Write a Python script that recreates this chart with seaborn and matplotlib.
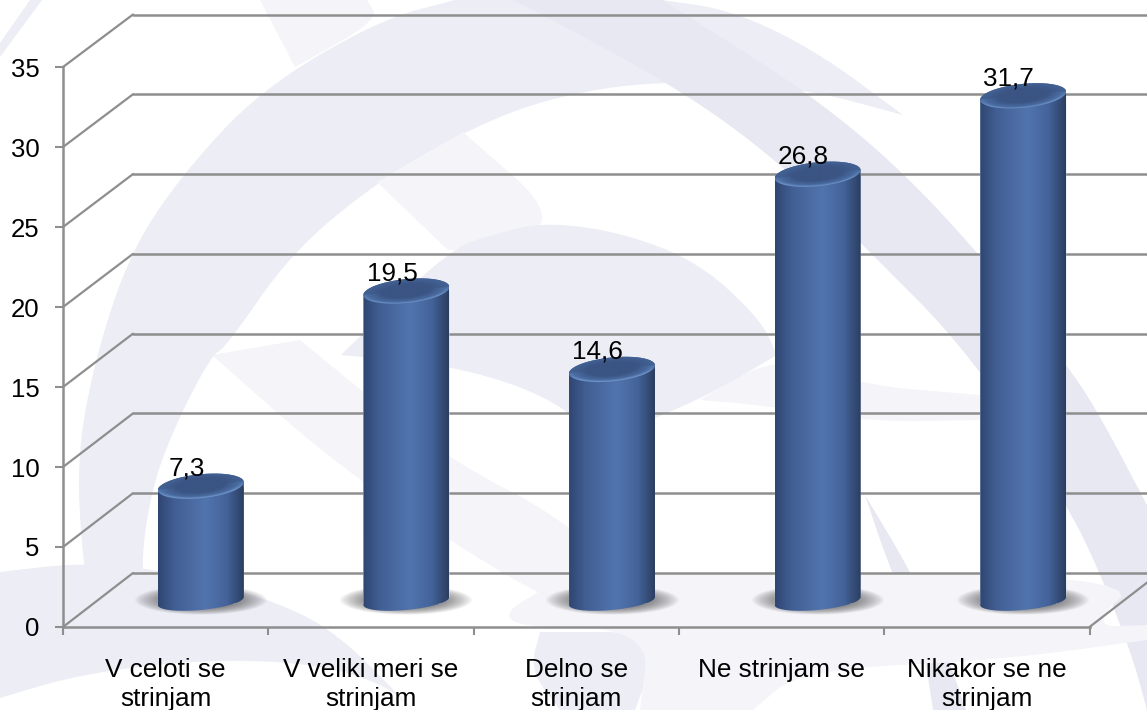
import numpy as np
import matplotlib
matplotlib.use("Agg")
import matplotlib.pyplot as plt
from matplotlib.colors import LinearSegmentedColormap, to_rgb
from matplotlib.patches import ConnectionPatch, Polygon
from matplotlib.path import Path
import seaborn as sns

categories = ["V celoti se\nstrinjam", "V veliki meri se\nstrinjam", "Delno se\nstrinjam",
              "Ne strinjam se", "Nikakor se ne\nstrinjam"]
values = [7.3, 19.5, 14.6, 26.8, 31.7]
value_labels = ["7,3", "19,5", "14,6", "26,8", "31,7"]
y_ticks = [0, 5, 10, 15, 20, 25, 30, 35]

W, H = 1147, 710
LILAC = "#ecedf5"
LIGHT = "#f4f4f9"
DARK = "#e7e8f2"
GRID = "#8e8e8e"

sns.set_theme(style="white")
plt.rcParams["font.family"] = ["Liberation Sans", "DejaVu Sans"]

fig = plt.figure(figsize=(W / 100, H / 100), dpi=100, facecolor="white")


def axes_px(x0, x1, y_bottom, y_top, z):
    # axes placed by pixel position in the picture (y counted from the top)
    a = fig.add_axes([x0 / W, 1 - y_bottom / H, (x1 - x0) / W, (y_bottom - y_top) / H], zorder=z)
    a.patch.set_alpha(0)
    return a


def curve(pts):
    # chaikin smoothing, end points stay where they are
    pts = np.array(pts, dtype=float)
    for _ in range(3):
        q = pts[:-1] * 0.75 + pts[1:] * 0.25
        r = pts[:-1] * 0.25 + pts[1:] * 0.75
        mid = np.empty((len(q) * 2, 2))
        mid[0::2] = q
        mid[1::2] = r
        pts = np.vstack([pts[:1], mid, pts[-1:]])
    return pts


# background watermark
bg = axes_px(0, W, H, 0, 0)
bg.set_xlim(0, W)
bg.set_ylim(H, 0)
bg.axis("off")


def swoosh(color, *edges):
    bg.add_patch(Polygon(np.vstack([curve(e) for e in edges]), closed=True, fc=color, ec="none"))


swoosh(LILAC, [(42, 0), (0, 57)], [(0, 43), (30, 0)])
swoosh(LIGHT, [(260, 0), (295, 67)], [(295, 67), (379, 20), (367, 0)])
# light strip running under the big band
swoosh(LIGHT, [(212, 355), (325, 455), (421, 522), (530, 590), (580, 610)],
       [(640, 600), (570, 522), (440, 455), (300, 340)])
# big C band
swoosh(LILAC,
       [(455, 0), (379, 20), (260, 90), (180, 177), (130, 253), (96, 355), (77, 455), (82, 555), (95, 640)],
       [(150, 640), (140, 565), (153, 482), (180, 415), (212, 355), (226, 347), (291, 253), (377, 182),
        (463, 132), (547, 98), (658, 80), (803, 88), (903, 115)],
       [(903, 115), (815, 50), (731, 10), (662, 0)])
swoosh(LIGHT, [(377, 182), (448, 250)], [(490, 250), (563, 220), (463, 132)])
# inner dome
swoosh(LIGHT, [(700, 400), (777, 355), (860, 385), (980, 395)], [(980, 420), (870, 422), (760, 405), (700, 400)])
swoosh(LILAC,
       [(341, 355), (448, 250), (497, 233), (547, 222), (624, 233), (700, 263), (761, 320), (777, 355)],
       [(777, 355), (700, 400), (600, 440), (547, 395), (450, 365), (341, 355)])
# diagonal band on the right
swoosh(DARK,
       [(513, 0), (547, 17), (681, 90), (777, 160), (861, 243), (972, 355), (1067, 505), (1098, 568),
        (1132, 655), (1147, 710)],
       [(1147, 505), (1098, 412), (1067, 365), (979, 253), (891, 160), (800, 87), (662, 0)])
swoosh(DARK, [(865, 495), (911, 572), (941, 638), (966, 710)], [(933, 710), (922, 638), (891, 572), (865, 495)])
# bottom
swoosh(LILAC,
       [(0, 572), (77, 563), (153, 568), (268, 598), (337, 632), (413, 710)],
       [(413, 710), (383, 683), (306, 662), (191, 660), (77, 675), (0, 698)])
swoosh(LILAC, [(540, 632), (658, 632), (650, 670), (635, 710)], [(560, 710), (530, 670), (540, 632)])
swoosh(LIGHT, [(570, 573), (1147, 573), (1089, 627), (1147, 625)],
       [(1147, 640), (1000, 660), (800, 670), (753, 710)], [(640, 710), (650, 627), (480, 627), (570, 573)])

# back wall, front axis and the bars share one scale, only shifted (fake 3d)
ax_back = axes_px(133, 1159.5, 573, 14.5, 1)
ax_front = axes_px(63, 1089.5, 627, 67, 2)
ax_bars = axes_px(98, 1126, 635, 43, 3)

for a in [ax_back, ax_front]:
    a.set_xlim(-0.5, 4.5)
    a.set_ylim(0, 35)

ax_back.set_yticks(y_ticks)
ax_back.set_xticks([])
ax_back.tick_params(left=False, labelleft=False)
ax_back.grid(axis="y", color=GRID, lw=1.8)
ax_back.set_axisbelow(True)
sns.despine(ax=ax_back, left=True, bottom=True)
ax_back.set_ylim(0, 35)
for ln in ax_back.get_ygridlines():
    ln.set_clip_on(False)

ax_front.set_yticks(y_ticks)
ax_front.set_xticks(np.arange(-0.5, 5, 1))
ax_front.set_xticklabels([])
ax_front.set_xticks(range(len(categories)), labels=categories, minor=True)
ax_front.tick_params(axis="both", which="major", color=GRID, width=1.5, length=6, left=True, bottom=True)
ax_front.tick_params(axis="x", which="minor", length=0, pad=22.5, labelsize=18.8, labelcolor="black")
ax_front.tick_params(axis="y", labelsize=18.5, labelcolor="black", pad=11)
for lb in ax_front.get_xticklabels(minor=True):
    lb.set_linespacing(1.23)
sns.despine(ax=ax_front)
for s in ["left", "bottom"]:
    ax_front.spines[s].set_color(GRID)
    ax_front.spines[s].set_linewidth(1.8)

# side wall lines between the front axis and the back wall
for v in y_ticks:
    fig.add_artist(ConnectionPatch((-0.5, v), (-0.5, v), coordsA=ax_front.transData, coordsB=ax_back.transData,
                                   color=GRID, lw=1.6, zorder=1.5))
fig.add_artist(ConnectionPatch((4.5, 0), (4.5, 0), coordsA=ax_front.transData, coordsB=ax_back.transData,
                               color=GRID, lw=1.6, zorder=1.5))

# cylinders
sns.barplot(x=list(range(5)), y=values, color="#4a6aa0", saturation=1, width=0.418, ax=ax_bars, zorder=2)
ax_bars.axis("off")

px_x = 1 / 205.6
px_y = 1 / 16
y_floor = -2
body_cmap = LinearSegmentedColormap.from_list(
    "body", [(0, "#2f4672"), (0.2, "#425f94"), (0.55, "#5274ae"), (0.8, "#44639a"), (1, "#2b3e60")])
theta = np.linspace(0, np.pi, 80)


def rim(cx, cy, half, b, tilt, t):
    # tilted ellipse, in data units
    return cx + half * np.cos(t), cy + (b * np.sin(t) + tilt * np.cos(t)) * px_y


def color_mix(c1, c2, k):
    return np.array(to_rgb(c1)) * (1 - k[..., None]) + np.array(to_rgb(c2)) * k[..., None]


for bar, val, label in zip(ax_bars.patches, values, value_labels):
    cx = bar.get_x() + bar.get_width() / 2
    half = bar.get_width() / 2

    # soft shadow on the floor
    sx = np.linspace(-1, 1, 160)
    sy = np.linspace(-1, 1, 60)
    gx, gy = np.meshgrid(sx, sy)
    alpha = np.clip(1 - (gx ** 2 + gy ** 2), 0, 1) ** 0.9 * 0.9
    shade = np.zeros(gx.shape + (4,))
    shade[..., :3] = to_rgb("#505050")
    shade[..., 3] = alpha
    ax_bars.imshow(shade, origin="lower", aspect="auto", zorder=0.5, interpolation="bilinear",
                   extent=(cx - 67 * px_x, cx + 67 * px_x, -12 * px_y, 18 * px_y))

    # body, clipped to the cylinder outline
    bx, by = rim(cx, 2 * px_y, half, 9, 4, -theta)
    tx, ty = rim(cx, val, half, 12, 4, theta)
    outline = np.vstack([np.column_stack([tx, ty]), np.column_stack([bx[::-1], by[::-1]])])
    outline = Path(np.vstack([outline, outline[:1]]))
    bar.set_clip_path(outline, ax_bars.transData)
    body = ax_bars.imshow(np.linspace(0, 1, 256)[None, :], cmap=body_cmap, aspect="auto", zorder=3,
                          extent=(cx - half, cx + half, -12 * px_y, val + 15 * px_y))
    body.set_clip_path(outline, ax_bars.transData)

    # top cap
    u = np.linspace(-1, 1, 200)
    vv = np.linspace(-1.33, 1.33, 80)
    gu, gv = np.meshgrid(u, vv)
    gv = gv - gu * 4 / 12
    r = np.sqrt(gu ** 2 + gv ** 2)
    k = np.clip((r - 0.55) / 0.45, 0, 1) * np.where(gv < 0, 1.0, 0.45)
    cap_rgb = color_mix("#3a5483", "#4f74ab", k)
    glow = np.clip((r - 0.88) / 0.12, 0, 1) * np.clip(-gv * 1.6, 0, 1)
    cap_rgb = cap_rgb * (1 - glow[..., None]) + np.array(to_rgb("#6f95c9")) * glow[..., None]
    cap = ax_bars.imshow(cap_rgb, origin="lower", aspect="auto", zorder=4, interpolation="bilinear",
                         extent=(cx - half, cx + half, val - 16 * px_y, val + 16 * px_y))
    ex, ey = rim(cx, val, half, 12, 4, np.linspace(0, 2 * np.pi, 160))
    cap.set_clip_path(Path(np.column_stack([ex, ey])), ax_bars.transData)

    ax_bars.annotate(label, (cx, val), xytext=(-10.4, 7.5), textcoords="offset points", ha="center",
                     va="baseline", fontsize=18.8, color="black", zorder=6, annotation_clip=False)

ax_bars.set_xlim(-0.5, 4.5)
ax_bars.set_ylim(y_floor, 35)

fig.savefig("out.png", dpi=100)
